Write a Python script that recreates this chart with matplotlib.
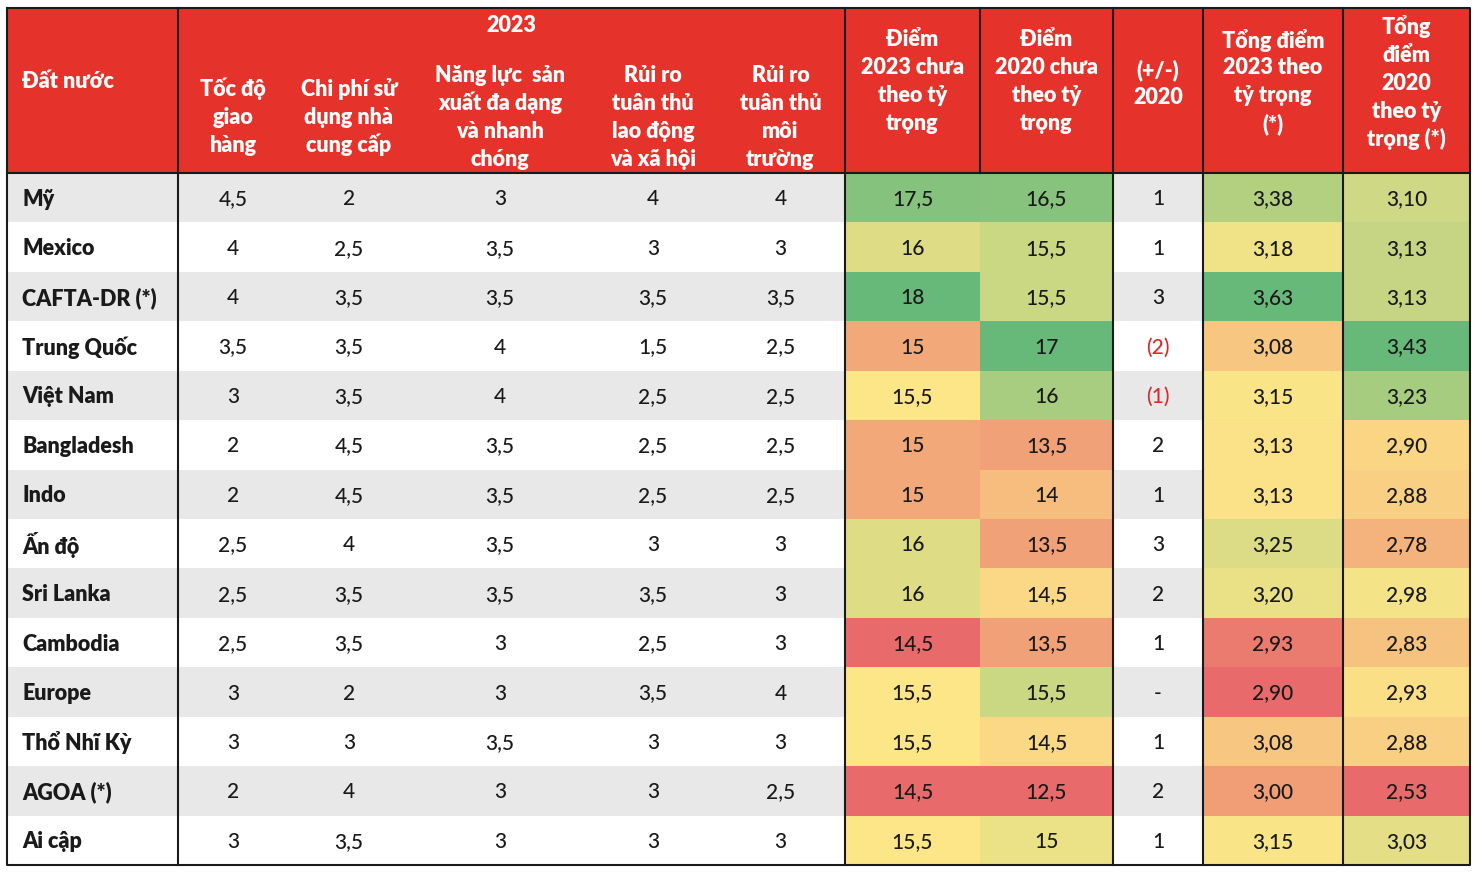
import matplotlib
matplotlib.use("Agg")
import matplotlib.pyplot as plt
from matplotlib.patches import Rectangle
from matplotlib import font_manager
import numpy as np

# ---------------- data ----------------
countries = ["Mỹ", "Mexico", "CAFTA-DR (*)", "Trung Quốc", "Việt Nam", "Bangladesh",
             "Indo", "Ấn độ", "Sri Lanka", "Cambodia", "Europe", "Thổ Nhĩ Kỳ",
             "AGOA (*)", "Ai cập"]
toc_do = ["4,5", "4", "4", "3,5", "3", "2", "2", "2,5", "2,5", "2,5", "3", "3", "2", "3"]
chi_phi = ["2", "2,5", "3,5", "3,5", "3,5", "4,5", "4,5", "4", "3,5", "3,5", "2", "3", "4", "3,5"]
nang_luc = ["3", "3,5", "3,5", "4", "4", "3,5", "3,5", "3,5", "3,5", "3", "3", "3,5", "3", "3"]
rui_ro_ld = ["4", "3", "3,5", "1,5", "2,5", "2,5", "2,5", "3", "3,5", "2,5", "3,5", "3", "3", "3"]
rui_ro_mt = ["4", "3", "3,5", "2,5", "2,5", "2,5", "2,5", "3", "3", "3", "4", "3", "2,5", "3"]
diem_2023 = [17.5, 16, 18, 15, 15.5, 15, 15, 16, 16, 14.5, 15.5, 15.5, 14.5, 15.5]
diem_2020 = [16.5, 15.5, 15.5, 17, 16, 13.5, 14, 13.5, 14.5, 13.5, 15.5, 14.5, 12.5, 15]
chenh_lech = ["1", "1", "3", "(2)", "(1)", "2", "1", "3", "2", "1", "-", "1", "2", "1"]
tong_2023 = [3.38, 3.18, 3.63, 3.08, 3.15, 3.13, 3.13, 3.25, 3.20, 2.93, 2.90, 3.08, 3.00, 3.15]
tong_2020 = [3.10, 3.13, 3.13, 3.43, 3.23, 2.90, 2.88, 2.78, 2.98, 2.83, 2.93, 2.88, 2.53, 3.03]

group_title = "2023"
headers = [
    ["Đất nước"],
    ["Tốc độ", "giao", "hàng"],
    ["Chi phí sử", "dụng nhà", "cung cấp"],
    ["Năng lực  sản", "xuất đa dạng", "và nhanh", "chóng"],
    ["Rủi ro", "tuân thủ", "lao động", "và xã hội"],
    ["Rủi ro", "tuân thủ", "môi", "trường"],
    ["Điểm", "2023 chưa", "theo tỷ", "trọng"],
    ["Điểm", "2020 chưa", "theo tỷ", "trọng"],
    ["(+/-)", "2020"],
    ["Tổng điểm", "2023 theo", "tỷ trọng", "(*)"],
    ["Tổng", "điểm", "2020", "theo tỷ", "trọng (*)"],
]

# ---------------- fonts ----------------
avail = {f.name for f in font_manager.fontManager.ttflist}
fam = "Open Sans"
for cand in ["Lato", "Open Sans"]:
    if cand in avail:
        fam = cand
        break
plt.rcParams["font.family"] = [fam, "DejaVu Sans"]

# ---------------- layout ----------------
W, H = 1480, 875
fig = plt.figure(figsize=(W / 100, H / 100), dpi=100)
ax = fig.add_axes([0, 0, 1, 1])
ax.set_xlim(0, W)
ax.set_ylim(H, 0)
ax.axis("off")

col_edges = [7, 178, 288, 410, 590, 716, 845, 980, 1113, 1203, 1343, 1470]
top, head_bot, bottom = 8, 173, 865
n = len(countries)
row_h = (bottom - head_bot) / n

RED = "#E5322A"
GRAY = "#E8E8E8"
TXT = "#1A1A1A"

# Excel-style 3-colour scale
c_lo = np.array([0xE9, 0x6A, 0x6B]) / 255
c_mid = np.array([0xFC, 0xE6, 0x88]) / 255
c_hi = np.array([0x67, 0xB9, 0x7A]) / 255


def scale_colors(vals):
    v = np.array(vals, float)
    lo, mid, hi = v.min(), np.percentile(v, 50), v.max()
    out = []
    for x in v:
        if x <= mid:
            t = 0 if mid == lo else (x - lo) / (mid - lo)
            c = c_lo + (c_mid - c_lo) * t
        else:
            t = (x - mid) / (hi - mid)
            c = c_mid + (c_hi - c_mid) * t
        out.append(tuple(c))
    return out


def fmt(v):
    return f"{v:g}".replace(".", ",")


def fmt2(v):
    return f"{v:.2f}".replace(".", ",")


# header background
ax.add_patch(Rectangle((col_edges[0], top), col_edges[-1] - col_edges[0], head_bot - top,
                       facecolor=RED, edgecolor="none", zorder=1))

# body rows background
for i in range(n):
    y0 = head_bot + i * row_h
    ax.add_patch(Rectangle((col_edges[0], y0), col_edges[-1] - col_edges[0], row_h,
                           facecolor=GRAY if i % 2 == 0 else "white", edgecolor="none", zorder=1))

heat_cols = {6: (diem_2023, fmt), 7: (diem_2020, fmt), 9: (tong_2023, fmt2), 10: (tong_2020, fmt2)}
for c, (vals, _) in heat_cols.items():
    cols = scale_colors(vals)
    for i in range(n):
        y0 = head_bot + i * row_h
        ax.add_patch(Rectangle((col_edges[c], y0), col_edges[c + 1] - col_edges[c], row_h,
                               facecolor=cols[i], edgecolor="none", zorder=2))

# body text
text_cols = [toc_do, chi_phi, nang_luc, rui_ro_ld, rui_ro_mt]
FS = 15
BW = "medium"
for i in range(n):
    yc = head_bot + (i + 0.5) * row_h + 1.5
    ax.text(col_edges[0] + 15, yc, countries[i], ha="left", va="center", fontsize=15.5,
            fontweight="heavy", color=TXT, zorder=5)
    for k, col in enumerate(text_cols):
        c = k + 1
        xc = (col_edges[c] + col_edges[c + 1]) / 2
        ax.text(xc, yc, col[i], ha="center", va="center", fontsize=FS, fontweight=BW,
                color=TXT, zorder=5)
    for c, (vals, f) in heat_cols.items():
        xc = (col_edges[c] + col_edges[c + 1]) / 2
        ax.text(xc, yc, f(vals[i]), ha="center", va="center", fontsize=FS, fontweight=BW,
                color=TXT, zorder=5)
    xc = (col_edges[8] + col_edges[9]) / 2
    s = chenh_lech[i]
    ax.text(xc, yc, s, ha="center", va="center", fontsize=FS, fontweight=BW,
            color="#D92B2B" if s.startswith("(") else TXT, zorder=5)

# header text
LS = 28
HFS = 15.5
HW = "heavy"
centers = [82, 117, 117, 117, 117, 117, 82, 82, 84, 82, 83]
for c, lines in enumerate(headers):
    xc = (col_edges[c] + col_edges[c + 1]) / 2
    if c == 0:
        ax.text(col_edges[0] + 15, centers[c], lines[0], ha="left", va="center",
                fontsize=HFS, fontweight=HW, color="white", zorder=5)
        continue
    m = len(lines)
    for j, ln in enumerate(lines):
        y = centers[c] + (j - (m - 1) / 2) * LS
        ax.text(xc, y, ln, ha="center", va="center", fontsize=HFS, fontweight=HW,
                color="white", zorder=5)
ax.text((col_edges[1] + col_edges[6]) / 2, 25, group_title, ha="center", va="center",
        fontsize=HFS, fontweight=HW, color="white", zorder=5)

# lines
LW = 1.5
LC = "#1A1A1A"
ax.plot([col_edges[0], col_edges[-1], col_edges[-1], col_edges[0], col_edges[0]],
        [top, top, bottom, bottom, top], color=LC, lw=LW, zorder=6)
ax.plot([col_edges[0], col_edges[-1]], [head_bot, head_bot], color=LC, lw=LW, zorder=6)
for c in [1, 6, 8, 9, 10]:
    ax.plot([col_edges[c], col_edges[c]], [top, bottom], color=LC, lw=LW, zorder=6)
ax.plot([col_edges[7], col_edges[7]], [top, head_bot], color=LC, lw=LW, zorder=6)

fig.savefig("out.png", dpi=100)
